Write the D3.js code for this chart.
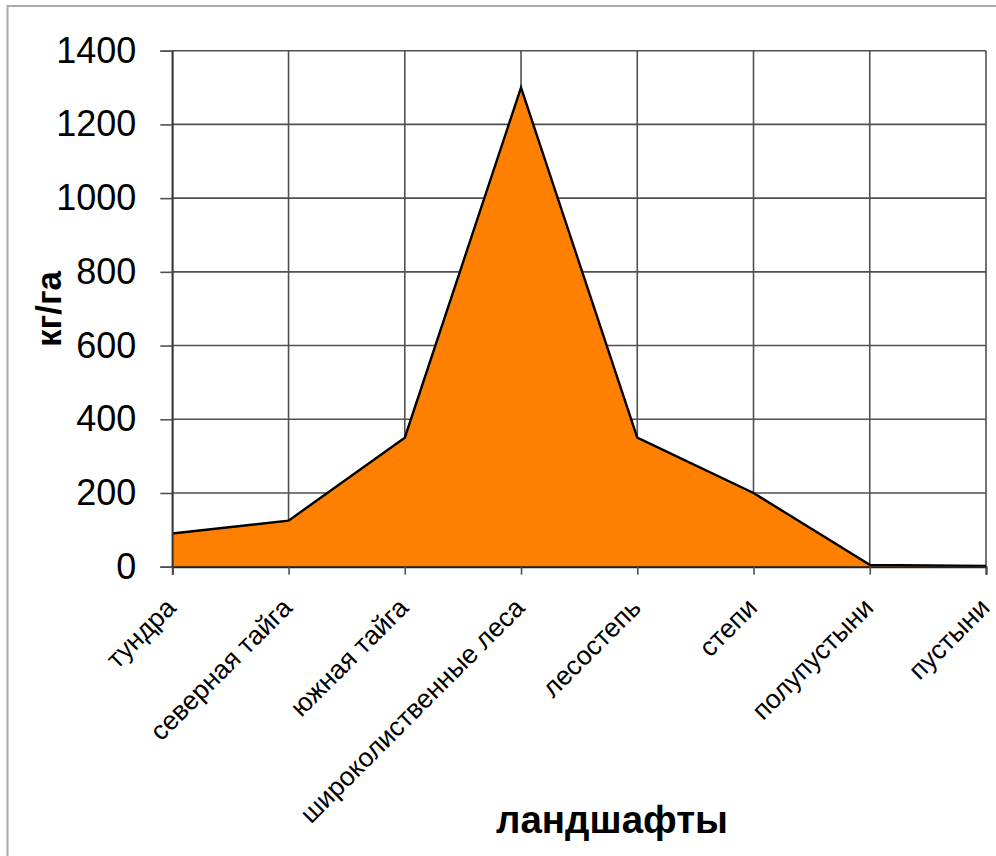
<!DOCTYPE html>
<html>
<head>
<meta charset="utf-8">
<script src="https://cdn.jsdelivr.net/npm/d3@7"></script>
<style>
  html, body { margin: 0; padding: 0; background: #fff; }
  svg { display: block; }
</style>
</head>
<body>
<svg id="chart" width="996" height="856"></svg>
<script>
// Biomass by landscape zone, kg per hectare
const categories = ["тундра", "северная тайга", "южная тайга", "широколиственные леса",
                    "лесостепь", "степи", "полупустыни", "пустыни"];
const values = [90, 125, 350, 1300, 350, 200, 5, 2];
const yTicks = [0, 200, 400, 600, 800, 1000, 1200, 1400];
const yTitle = "кг/га";
const xTitle = "ландшафты";

const svg = d3.select("#chart");
const font = "'Liberation Sans', Arial, sans-serif";

// outer frame (open at the right and bottom)
svg.append("path")
  .attr("d", "M7.5,856 V6 H996")
  .attr("fill", "none")
  .attr("stroke", "#aaaaaa")
  .attr("stroke-width", 2);

const plot = { left: 172.3, right: 986, top: 50.7, bottom: 566.7 };

const x = d3.scalePoint().domain(categories).range([plot.left, plot.right]);
const y = d3.scaleLinear().domain([0, 1400]).range([plot.bottom, plot.top]);

// grid
const grid = svg.append("g").attr("stroke", "#505050").attr("stroke-width", 1.6);
grid.selectAll("line.h").data(yTicks).join("line")
  .attr("class", "h")
  .attr("x1", plot.left).attr("x2", plot.right)
  .attr("y1", d => y(d)).attr("y2", d => y(d));
grid.selectAll("line.v").data(categories).join("line")
  .attr("class", "v")
  .attr("x1", d => x(d)).attr("x2", d => x(d))
  .attr("y1", plot.top).attr("y2", plot.bottom);

// area with outlined top edge
const area = d3.area()
  .x((d, i) => x(categories[i]))
  .y0(plot.bottom)
  .y1(d => y(d));
const line = d3.line()
  .x((d, i) => x(categories[i]))
  .y(d => y(d));

svg.append("path").datum(values)
  .attr("d", area)
  .attr("fill", "#ff8000");
svg.append("path").datum(values)
  .attr("d", line)
  .attr("fill", "none")
  .attr("stroke", "#000")
  .attr("stroke-width", 2.4)
  .attr("stroke-linejoin", "miter");

// y axis
const yAxis = svg.append("g")
  .attr("transform", `translate(${plot.left},0)`)
  .call(d3.axisLeft(y).tickValues(yTicks).tickSize(12).tickPadding(24).tickFormat(d3.format("d")));
yAxis.select(".domain").attr("stroke", "#333").attr("stroke-width", 1.6);
yAxis.selectAll(".tick line").attr("stroke", "#505050").attr("stroke-width", 1.6);
yAxis.selectAll(".tick text")
  .attr("font-family", font).attr("font-size", 36).attr("fill", "#000");

// x axis
const xAxis = svg.append("g")
  .attr("transform", `translate(0,${plot.bottom})`)
  .call(d3.axisBottom(x).tickSize(8).tickPadding(0));
xAxis.select(".domain").attr("stroke", "#222").attr("stroke-width", 2);
xAxis.selectAll(".tick line").attr("stroke", "#505050").attr("stroke-width", 1.6);
xAxis.selectAll(".tick text")
  .attr("font-family", font).attr("font-size", 26.5).attr("fill", "#000")
  .attr("text-anchor", "end")
  .attr("dy", 0)
  .attr("transform", "translate(-1,37) rotate(-45)");

// axis titles
svg.append("text")
  .attr("transform", `translate(61,309) rotate(-90)`)
  .attr("text-anchor", "middle")
  .attr("font-family", font).attr("font-weight", "bold").attr("font-size", 35)
  .text(yTitle);

svg.append("text")
  .attr("x", 612).attr("y", 833)
  .attr("text-anchor", "middle")
  .attr("font-family", font).attr("font-weight", "bold").attr("font-size", 38.5)
  .text(xTitle);
</script>
</body>
</html>
